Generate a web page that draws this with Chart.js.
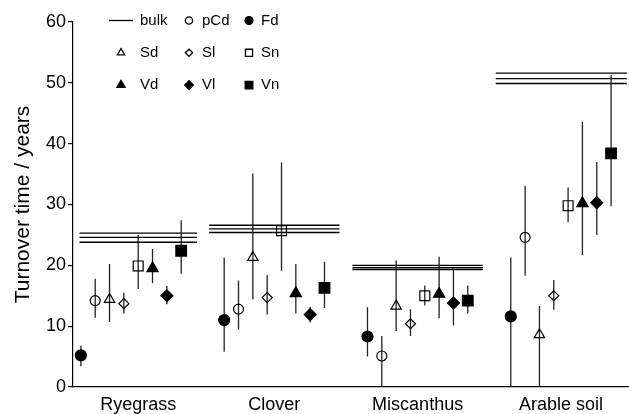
<!DOCTYPE html>
<html lang="en">
<head>
<meta charset="UTF-8">
<title>Turnover time</title>
<script src="https://cdn.jsdelivr.net/npm/chart.js"></script>
<style>
  html, body { margin: 0; padding: 0; background: #fff; overflow: hidden; }
  canvas { display: block; }
</style>
</head>
<body>
<canvas id="chart" width="629" height="414"></canvas>
<script>
// Categories and series
const categories = ['Ryegrass', 'Clover', 'Miscanthus', 'Arable soil'];
const seriesNames = ['Fd', 'pCd', 'Sd', 'Sl', 'Sn', 'Vd', 'Vl', 'Vn'];
const yTicks = [0, 10, 20, 30, 40, 50, 60];

// Mean turnover time (years), one value per category
const Fd  = [5.2, 11.0, 8.3, 11.6];
const pCd = [14.2, 12.8, 5.1, 24.6];
const Sd  = [14.4, 21.3, 13.3, 8.6];
const Sl  = [13.7, 14.7, 10.4, 15.0];
const Sn  = [19.9, 25.7, 15.0, 29.8];
const Vd  = [19.5, 15.4, 15.3, 30.2];
const Vl  = [15.0, 11.9, 13.8, 30.3];
const Vn  = [22.4, 16.3, 14.2, 38.4];

// Error bars [low, high]
const FdErr  = [[3.4, 6.8], [5.8, 21.3], [5.0, 13.1], [0, 21.3]];
const pCdErr = [[11.4, 17.8], [9.4, 17.5], [0, 8.4], [18.3, 33.1]];
const SdErr  = [[10.7, 20.2], [14.4, 35.1], [9.2, 20.8], [0, 13.3]];
const SlErr  = [[12.1, 15.5], [11.9, 18.4], [8.4, 12.8], [12.7, 17.6]];
const SnErr  = [[16.1, 25.0], [19.1, 36.9], [13.4, 16.7], [27.1, 32.8]];
const VdErr  = [[17.1, 22.7], [12.1, 20.2], [11.3, 21.4], [21.7, 43.6]];
const VlErr  = [[13.6, 16.6], [10.6, 13.2], [10.1, 19.5], [25.0, 37.0]];
const VnErr  = [[18.6, 27.4], [13.0, 20.6], [12.1, 16.7], [29.7, 51.3]];

// Bulk soil: lower, mean, upper
const bulkLow  = [23.8, 25.4, 19.3, 49.9];
const bulkMean = [24.6, 26.0, 19.6, 50.7];
const bulkHigh = [25.3, 26.6, 20.0, 51.6];

const means = [Fd, pCd, Sd, Sl, Sn, Vd, Vl, Vn];
const errs = [FdErr, pCdErr, SdErr, SlErr, SnErr, VdErr, VlErr, VnErr];

// marker look per series
const styles = {
  Fd:  { pointStyle: 'circle',   radius: 5.5, filled: true },
  pCd: { pointStyle: 'circle',   radius: 5,   filled: false },
  Sd:  { pointStyle: 'triangle', radius: 6,   filled: false },
  Sl:  { pointStyle: 'rectRot',  radius: 5,   filled: false },
  Sn:  { pointStyle: 'rect',     radius: 7,   filled: false },
  Vd:  { pointStyle: 'triangle', radius: 6.5, filled: true },
  Vl:  { pointStyle: 'rectRot',  radius: 6,   filled: true },
  Vn:  { pointStyle: 'rect',     radius: 7.5, filled: true }
};

// x layout: group i sits at x = i, series spread 0.1 apart
const offset = i => (i - 3.5) * 0.1;
const bulkSpan = [[-0.36, 0.46], [-0.455, 0.455], [-0.455, 0.455], [-0.455, 0.46]];
const labelPos = [0.05, 1, 2, 3];

const datasets = [];

[bulkLow, bulkMean, bulkHigh].forEach((vals, k) => {
  const pts = [];
  vals.forEach((v, i) => {
    pts.push({ x: i + bulkSpan[i][0], y: v }, { x: i + bulkSpan[i][1], y: v }, { x: i + bulkSpan[i][1], y: null });
  });
  datasets.push({
    label: 'bulk' + k, data: pts, showLine: true, pointRadius: 0,
    borderColor: '#000', borderWidth: 1.4, spanGaps: false, order: 3
  });
});

seriesNames.forEach((name, s) => {
  const pts = [];
  errs[s].forEach((e, i) => {
    const x = i + offset(s);
    pts.push({ x, y: e[0] }, { x, y: e[1] }, { x, y: null });
  });
  datasets.push({
    label: name + ' err', data: pts, showLine: true, pointRadius: 0,
    borderColor: '#222', borderWidth: 1.3, spanGaps: false, order: 2
  });
});

seriesNames.forEach((name, s) => {
  const st = styles[name];
  datasets.push({
    label: name,
    data: means[s].map((v, i) => ({ x: i + offset(s), y: v })),
    pointStyle: st.pointStyle,
    pointRadius: st.radius,
    pointBorderColor: '#000',
    pointBorderWidth: 1.2,
    pointBackgroundColor: st.filled ? '#000' : 'rgba(0,0,0,0)',
    order: 1
  });
});

// 3 x 3 legend drawn on the canvas
const legendOrder = ['bulk', 'pCd', 'Fd', 'Sd', 'Sl', 'Sn', 'Vd', 'Vl', 'Vn'];
const legendPlugin = {
  id: 'gridLegend',
  afterDraw(chart) {
    const ctx = chart.ctx;
    const symX = [121, 189, 249], textX = [140, 202, 261];
    ctx.save();
    ctx.font = '15px "Liberation Sans", Arial, sans-serif';
    ctx.textBaseline = 'middle';
    legendOrder.forEach((name, i) => {
      const col = i % 3, row = Math.floor(i / 3);
      const y = 20.5 + row * 32.3;
      ctx.strokeStyle = '#000';
      ctx.lineWidth = 1.3;
      if (name === 'bulk') {
        ctx.beginPath();
        ctx.moveTo(109, y);
        ctx.lineTo(133, y);
        ctx.stroke();
      } else {
        const st = styles[name];
        ctx.fillStyle = st.filled ? '#000' : '#fff';
        Chart.helpers.drawPoint(ctx, {
          pointStyle: st.pointStyle, radius: st.radius * 0.72, rotation: 0, borderWidth: 1
        }, symX[col], y);
      }
      ctx.fillStyle = '#000';
      ctx.fillText(name, textX[col], y);
    });
    ctx.restore();
  }
};

Chart.defaults.font.family = '"Liberation Sans", Arial, sans-serif';
Chart.defaults.color = '#000';

new Chart(document.getElementById('chart'), {
  type: 'scatter',
  data: { datasets },
  plugins: [legendPlugin],
  options: {
    responsive: false,
    animation: false,
    events: [],
    layout: { autoPadding: false, padding: { top: 22, left: 11, right: 0, bottom: 0 } },
    plugins: { legend: { display: false }, tooltip: { enabled: false } },
    scales: {
      x: {
        type: 'linear',
        min: -0.405,
        max: 3.475,
        grid: { display: false, drawTicks: false },
        border: { display: true, color: '#000', width: 1.2 },
        afterBuildTicks: scale => { scale.ticks = labelPos.map(v => ({ value: v })); },
        afterFit: scale => { scale.height = 27; scale.paddingLeft = 0; scale.paddingRight = 0; },
        ticks: {
          autoSkip: false, maxRotation: 0, padding: 9,
          font: { size: 18, lineHeight: 1 },
          callback: (v, i) => categories[i]
        }
      },
      y: {
        min: 0,
        max: 60,
        afterBuildTicks: scale => { scale.ticks = yTicks.map(v => ({ value: v })); },
        afterFit: scale => { scale.width = 62; scale.paddingBottom = 0; },
        grid: { display: true, drawOnChartArea: false, drawTicks: true, tickLength: 5, color: '#000', lineWidth: 1.2 },
        border: { display: true, color: '#000', width: 1.2 },
        ticks: { padding: 2, font: { size: 18 } },
        title: {
          display: true, text: 'Turnover time / years',
          font: { size: 21 }, padding: { top: 0, bottom: 8 }
        }
      }
    }
  }
});
</script>
</body>
</html>
